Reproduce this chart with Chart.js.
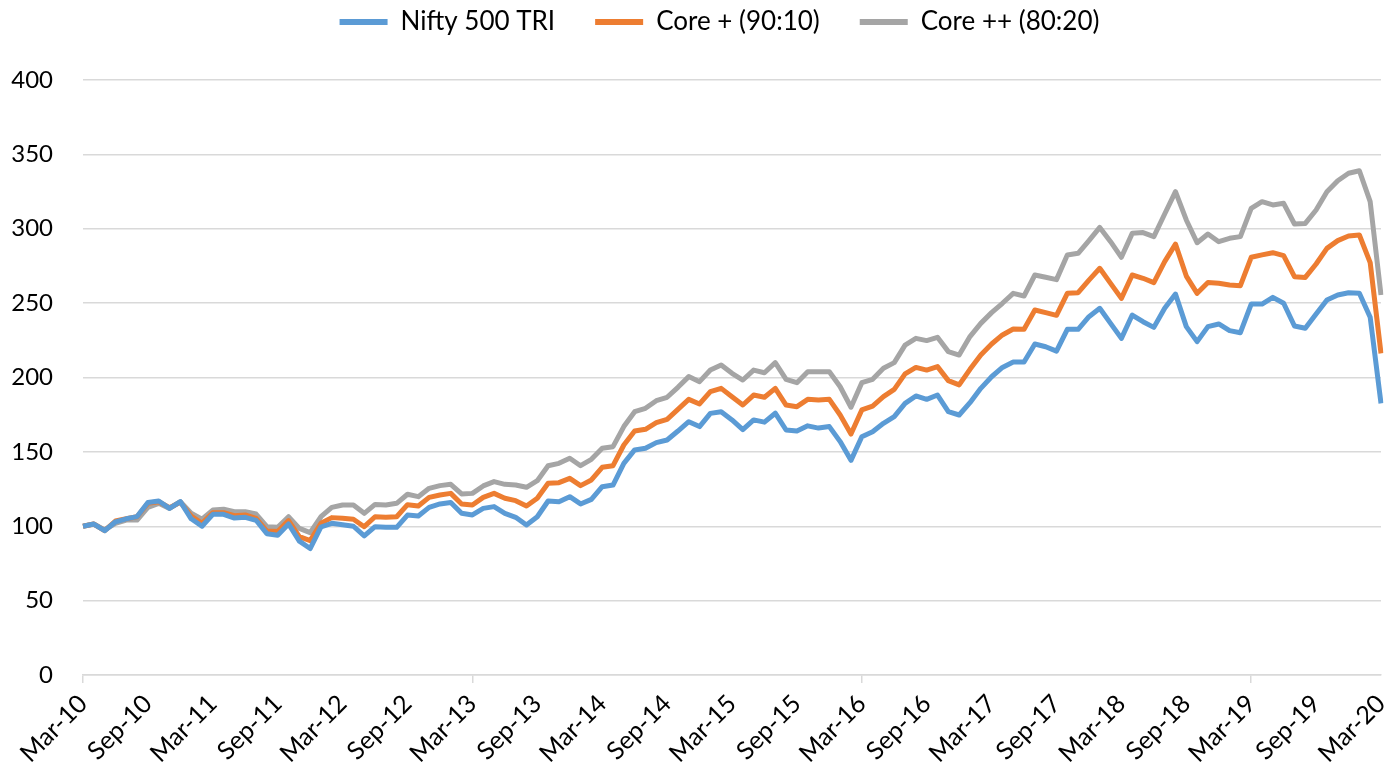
<!DOCTYPE html>
<html>
<head>
<meta charset="utf-8">
<title>Nifty 500 TRI vs Core portfolios</title>
<script src="https://cdn.jsdelivr.net/npm/chart.js@4.4.1/dist/chart.umd.min.js"></script>
<style>
    html, body { margin: 0; padding: 0; background: #fff; }
    #wrap { width: 1387px; height: 774px; }
</style>
</head>
<body>
<div id="wrap"><canvas id="chart"></canvas></div>
<script>
// Meses Mar-10 .. Mar-20 (121 puntos mensuales)
const monthNames = ["Jan", "Feb", "Mar", "Apr", "May", "Jun", "Jul", "Aug", "Sep", "Oct", "Nov", "Dec"];
const startYear = 2010;
const startMonth = 2; // Mar
const pointCount = 121;

const yTicks = [0, 50, 100, 150, 200, 250, 300, 350, 400];

const nifty500 = [
    100, 101.5, 97, 103, 105, 106.5, 116, 117, 112, 116.5,
    105, 100, 108, 108, 105.5, 106, 104, 95, 94, 101.5,
    90, 85, 99.5, 102, 101, 100, 93.5, 99.7, 99.3, 99.3,
    107.5, 106.9, 112.7, 115, 116, 108.7, 107.6, 112, 113.2, 108.7,
    106, 100.8, 106.4, 117, 116.5, 119.9, 115, 118.1, 126.6, 127.7,
    142.3, 151.3, 152.4, 156.2, 158, 164, 170.3, 167, 175.9, 177,
    171.5, 165, 171.5, 170, 176, 164.7, 164, 167.5, 166, 167,
    156.9, 144.3, 160.2, 163.6, 169.2, 173.7, 182.6, 187.6, 185.3, 188.2,
    177, 174.8, 183.1, 192.7, 200.5, 206.8, 210.4, 210.4, 222.5, 220.7,
    217.7, 232.4, 232.4, 240.9, 246.5, 236.4, 226.3, 242, 237.5, 233.7,
    246.5, 256.1, 234.2, 224.1, 234.2, 236, 231.5, 230.1, 249.4, 249.4,
    253.9, 249.9, 234.6, 233.1, 242.7, 252.1, 255.5, 257, 256.6, 240.5,
    182.6
];

const corePlus = [
    100, 101.5, 97, 103.5, 105, 106.4, 115.4, 116.5, 112.5, 116.1,
    106.9, 102, 109.1, 109.1, 107.1, 107.6, 105.3, 96.8, 96.4, 103.8,
    93, 90.3, 102, 105.8, 105.3, 104.7, 99.7, 106.4, 106, 106.4,
    114.5, 113.6, 119.4, 121, 122.1, 115, 114.3, 119.4, 122.1, 118.8,
    117.2, 113.6, 118.8, 128.9, 129.3, 132.2, 127.3, 131.1, 139.6, 140.7,
    154.6, 164, 165.2, 169.6, 171.9, 178.6, 185.3, 182.2, 190.5, 192.7,
    187.1, 181.5, 188.2, 186.7, 192.7, 181.5, 180.4, 185.3, 184.9, 185.3,
    174.8, 162, 178.2, 180.8, 187.1, 192, 202.4, 206.8, 205, 207.3,
    197.9, 195, 205.5, 215.1, 222.5, 228.6, 232.6, 232.4, 245.4, 243.6,
    241.8, 256.6, 257, 265.5, 273.4, 263.3, 253.2, 268.9, 266.7, 263.8,
    277.9, 289.7, 268.2, 256.6, 263.8, 263.3, 262.2, 261.7, 280.8, 282.4,
    283.9, 281.9, 267.8, 267.3, 276.3, 286.8, 292, 295.1, 295.8, 277.2,
    216.2
];

const corePlusPlus = [
    100, 101.5, 97.5, 102, 104.2, 104.2, 112.7, 115.4, 112, 116.5,
    108.7, 104.7, 110.9, 111.4, 109.8, 109.8, 108.2, 99.7, 99.3, 106.4,
    98.6, 95.7, 106.4, 112.7, 114.3, 114.3, 108.7, 114.7, 114.3, 115.4,
    121.5, 119.9, 125.5, 127.3, 128.2, 121.7, 122.1, 127.1, 130, 128.2,
    127.7, 126.2, 130.6, 140.7, 142.3, 145.7, 140.7, 145, 152.4, 153.5,
    167, 177, 179.3, 184.4, 186.7, 193.4, 200.6, 197.2, 205, 208.4,
    202.8, 198.3, 205, 203.2, 210, 198.8, 196.5, 203.9, 203.9, 203.9,
    193.8, 180, 196.5, 198.8, 206.2, 210, 221.8, 226.3, 224.8, 227,
    217.4, 215.1, 227.5, 236.4, 243.6, 249.9, 256.6, 254.8, 268.9, 267.4,
    265.8, 282.4, 283.5, 292, 300.9, 291.3, 280.8, 296.9, 297.4, 294.7,
    309.9, 324.9, 305.9, 290.6, 296.5, 291.3, 293.6, 294.7, 313.7, 318.2,
    316, 317.1, 303.2, 303.6, 312.6, 324.9, 332.3, 337.3, 339, 318.2,
    255.5
];

// Etiquetas tipo "Mar-10"
const labels = [];
for (let i = 0; i < pointCount; i++) {
    const m = (startMonth + i) % 12;
    const y = startYear + Math.floor((startMonth + i) / 12);
    labels.push(monthNames[m] + "-" + String(y).slice(2));
}

const fontFamily = "Lato, 'Open Sans', sans-serif";

// Ajuste de la leyenda: alto fijo y desplazamiento
const legendFix = {
    id: "legendFix",
    beforeLayout(chart) {
        const legend = chart.legend;
        if (legend && !legend._patched) {
            const origFit = legend.fit;
            legend.fit = function () {
                origFit.call(this);
                this.height = 80;
            };
            legend._patched = true;
        }
    },
    afterLayout(chart) {
        const legend = chart.legend;
        legend.left += 26;
        legend.right += 26;
        legend.top = -31;
    },
};

new Chart(document.getElementById("chart").getContext("2d"), {
    type: "line",
    data: {
        labels: labels,
        datasets: [
            { label: "Nifty 500 TRI", data: nifty500, borderColor: "#5B9BD5", backgroundColor: "#5B9BD5" },
            { label: "Core + (90:10)", data: corePlus, borderColor: "#ED7D31", backgroundColor: "#ED7D31" },
            { label: "Core ++ (80:20)", data: corePlusPlus, borderColor: "#A5A5A5", backgroundColor: "#A5A5A5" },
        ].map((ds) => Object.assign(ds, {
            borderWidth: 5,
            pointRadius: 0,
            pointHoverRadius: 0,
            tension: 0,
            fill: false,
            borderJoinStyle: "round",
        })),
    },
    options: {
        responsive: true,
        maintainAspectRatio: false,
        animation: false,
        layout: { padding: { left: 6, right: 6, top: 0, bottom: 0 } },
        plugins: {
            legend: {
                position: "top",
                labels: {
                    color: "#000",
                    font: { family: fontFamily, size: 26 },
                    boxWidth: 48,
                    boxHeight: 6,
                    padding: 40,
                    generateLabels: (chart) =>
                        Chart.defaults.plugins.legend.labels
                            .generateLabels(chart)
                            .map((l) => Object.assign(l, { lineWidth: 0 })),
                },
            },
            tooltip: { enabled: false },
        },
        scales: {
            x: {
                afterFit: (s) => {
                    s.height = 99;
                    s.paddingLeft = 0;
                    s.paddingRight = 0;
                },
                grid: {
                    drawOnChartArea: false,
                    tickLength: 8,
                    lineWidth: 1.5,
                    color: (ctx) => (ctx.index % 6 === 0 ? "#d9d9d9" : "transparent"),
                },
                border: { color: "#d9d9d9", width: 1.5 },
                ticks: {
                    autoSkip: false,
                    maxRotation: 45,
                    minRotation: 45,
                    color: "#000",
                    font: { family: fontFamily, size: 25 },
                    padding: 6,
                    callback: function (val, idx) {
                        return idx % 6 === 0 ? labels[idx] : null;
                    },
                },
            },
            y: {
                min: 0,
                max: 400,
                afterBuildTicks: (axis) => {
                    axis.ticks = yTicks.map((v) => ({ value: v }));
                },
                afterFit: (s) => {
                    s.width = 77;
                    s.paddingTop = 0;
                    s.paddingBottom = 0;
                },
                grid: { color: "#d9d9d9", lineWidth: 1.5, drawTicks: false },
                border: { display: false },
                ticks: {
                    color: "#000",
                    font: { family: fontFamily, size: 24 },
                    padding: 30,
                },
            },
        },
    },
    plugins: [legendFix],
});
</script>
</body>
</html>
